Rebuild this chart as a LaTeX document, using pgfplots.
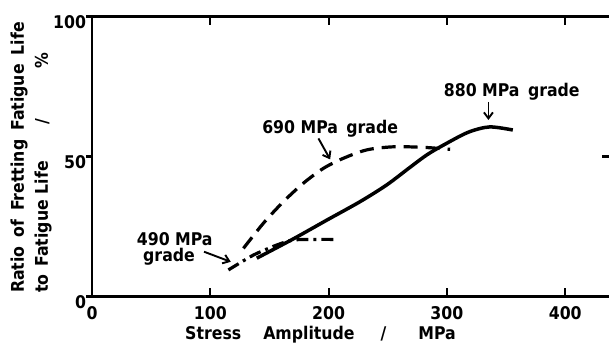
\documentclass[border=0pt]{standalone}
\usepackage{fontspec}
\setmainfont{DejaVu Sans Condensed}[BoldFont={DejaVu Sans Condensed Bold}]
\usepackage{pgfplots}
\pgfplotsset{compat=1.18}
\usetikzlibrary{arrows.meta}
\begin{document}
\fontsize{17.5}{20}\selectfont\bfseries
\begin{tikzpicture}[font=\fontsize{17.5}{20}\selectfont\bfseries]
\begin{axis}[
  scale only axis, width=517pt, height=279.8pt,
  xmin=0, xmax=437, ymin=0, ymax=100,
  axis x line*=box, axis y line*=left,
  axis line style={line width=2.8pt, black},
  xtick={0,100,200,300,400}, ytick={0,50,100},
  tick align=inside, major tick length=8pt,
  xtick style={line width=2.2pt, black},
  ytick style={draw=none},
  xticklabel pos=lower,
  tick label style={font=\fontsize{17.5}{20}\selectfont\bfseries},
  /pgf/number format/assume math mode=true,
  xticklabel style={yshift=-3.5pt},
  yticklabel style={yshift=-5.5pt},
  clip=false,
]
% 880 MPa grade (solid)
\addplot[line width=3.5pt, black, smooth, tension=0.5] coordinates {
  (139.3,13.7) (170.2,20.6) (198.5,27.3) (226.6,33.9) (249.2,39.9)
  (268.9,46.2) (283.0,50.6) (297.0,54.1) (318.0,58.7) (336.0,60.6) (355.7,59.5)
};
% 690 MPa grade (dashed)
\addplot[line width=3.2pt, black, smooth, tension=0.5, dash pattern=on 14pt off 8pt] coordinates {
  (128.0,17.2) (144.9,26.2) (161.8,33.9) (178.7,40.5) (195.6,45.8)
  (212.5,49.4) (232.3,52.4) (254.8,53.5) (280.2,53.3) (302.7,52.6)
};
% 490 MPa grade (dash-dot)
\addplot[line width=3.2pt, black, smooth, tension=0.4, dash pattern=on 12pt off 5pt on 3pt off 5pt] coordinates {
  (115.3,9.5) (136.4,14.8) (156.2,18.4) (170.2,20.2) (190.0,20.4) (205.5,20.4)
};
% extra ticks
\draw[line width=2.6pt] (axis cs:0,0) -- ++(-6pt,0);
\draw[line width=2.6pt] (axis cs:0,50) -- ++(-6pt,0);
\draw[line width=2.6pt] (axis cs:0,100) -- ++(-6pt,0);
\draw[line width=2.6pt] (axis cs:437,50) -- ++(-7pt,0);
% annotations
\node[anchor=base, inner sep=0] at (axis cs:354.8,71.4) {880 MPa\hspace{3pt} grade};
\draw[line width=1.9pt, -{Straight Barb[length=6pt,width=9pt]}] (axis cs:335.1,69.6) -- (axis cs:335.1,63.1);
\node[anchor=base, inner sep=0] at (axis cs:201.3,58.3) {690 MPa\hspace{3pt} grade};
\draw[line width=1.9pt, -{Straight Barb[length=6pt,width=9pt]}] (axis cs:191.4,56.5) -- (axis cs:201.3,49.0);
\node[anchor=base, inner sep=0] at (axis cs:69.9,18.4) {490 MPa};
\node[anchor=base, inner sep=0] at (axis cs:65.1,12.5) {grade};
\draw[line width=1.9pt, -{Straight Barb[length=6pt,width=9pt]}] (axis cs:94.7,16.0) -- (axis cs:117.3,12.4);
% axis labels
\node[anchor=base west, inner sep=0] at (axis cs:78.6,-15.5) {Stress\hspace{22pt}Amplitude\hspace{26pt}/\hspace{32pt}MPa};
\node[rotate=90, anchor=base west, inner sep=0] at (axis cs:-57.5,1.25) {Ratio\hspace{9pt}of\hspace{9pt}Fretting\hspace{9pt}Fatigue\hspace{9pt}Life};
\node[rotate=90, anchor=base west, inner sep=0] at (axis cs:-37.2,1.25) {to\hspace{8pt}Fatigue\hspace{6pt}Life};
\node[rotate=90, anchor=base, inner sep=0] at (axis cs:-37.2,62.5) {/};
\node[rotate=90, anchor=base, inner sep=0] at (axis cs:-37.2,84.2) {\%};
\coordinate (bl) at (rel axis cs:0,0);
\coordinate (tr) at (rel axis cs:1,1);
\end{axis}
\pgfresetboundingbox
\useasboundingbox ([shift={(-92pt,-47.5pt)}]bl) rectangle ([yshift=16.7pt]tr);
\end{tikzpicture}
\end{document}
